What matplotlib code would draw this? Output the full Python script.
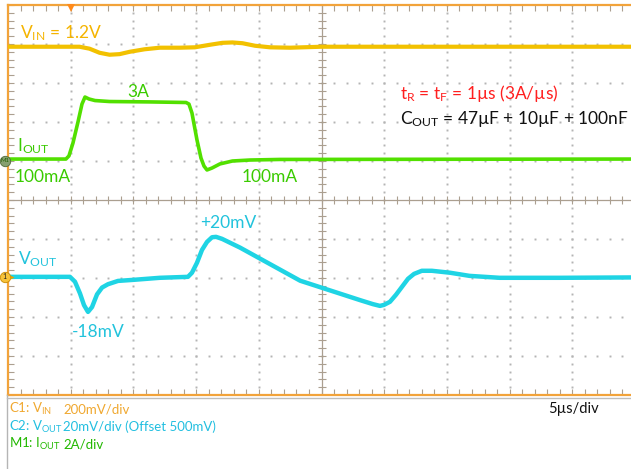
"""
Load-transient scope capture: V_IN, I_OUT and V_OUT, 5us/div.
"""
import numpy as np
import matplotlib
matplotlib.use('Agg')
import matplotlib.pyplot as plt
from matplotlib import rcParams
from matplotlib.ticker import MultipleLocator
from matplotlib.lines import Line2D

rcParams['font.family'] = ['Lato', 'DejaVu Sans']
rcParams['mathtext.fontset'] = 'custom'
rcParams['mathtext.rm'] = 'Lato'
rcParams['mathtext.it'] = 'Lato:italic'
rcParams['mathtext.bf'] = 'Lato:bold'

# scope settings
T_DIV = 5.0       # us/div
VIN_DIV = 200.0   # mV/div
VOUT_DIV = 20.0   # mV/div
IOUT_DIV = 2.0    # A/div
VIN_POS = 3.93    # trace offsets in div
VOUT_POS = -1.97
IOUT_POS = 1.0
TRIG_T = 5.0      # us

# V_IN ripple around 1.2V (mV)
vin_t  = np.array([0, 5.7, 6.5, 7.3, 8.1, 8.9, 9.7, 10.9, 12.1, 13.7, 14.9, 16.1, 17.1, 17.9, 18.7, 19.7, 20.9, 22.5, 25.0, 31.3, 50.0])
vin_mv = np.array([0, 0, -10, -31, -41, -38, -26, -13, -5, -5, -3, 10, 20, 22, 18, 5, -3, -5, 0, 0, 0])

# I_OUT step 100mA -> 3A -> 100mA (A)
iout_t = np.array([0, 4.62, 4.86, 5.18, 5.58, 5.90, 6.14, 6.46, 6.94, 8.1, 11.3, 14.2, 14.43, 14.67, 15.07, 15.39, 15.63, 15.87, 16.27, 16.9, 17.9, 19.3, 21.7, 50.0])
iout_a = np.array([0.1, 0.1, 0.26, 0.92, 2.0, 2.92, 3.28, 3.18, 3.1, 3.05, 3.03, 3.0, 2.92, 2.46, 1.08, 0.15, -0.26, -0.46, -0.36, -0.15, 0.0, 0.05, 0.08, 0.1])

# V_OUT deviation (mV)
vout_t  = np.array([0, 4.94, 5.34, 5.74, 6.06, 6.38, 6.70, 7.10, 7.50, 7.97, 8.77, 10.1, 12.1, 14.35, 14.67, 15.07, 15.47, 15.87, 16.27, 16.59, 17.06, 18.5, 23.3, 28.1, 29.1,
                    29.66, 29.98, 30.46, 30.94, 31.42, 31.90, 32.38, 33.0, 33.8, 35.25, 36.8, 39.2, 44.0, 50.0])
vout_mv = np.array([0, 0, -2.5, -8.5, -14.5, -18.0, -15.5, -9.0, -5.5, -3.8, -2.1, -1.5, -0.5, 0, 2.1, 7.2, 13.8, 17.9, 20.3, 20.5, 19.5, 15.0, -2.0, -12.0, -14.0,
                    -14.9, -14.4, -12.8, -9.2, -5.1, -1.0, 1.5, 3.1, 3.1, 2.1, 0.5, -0.5, -0.5, -0.3])

C_FRAME = '#f2a33a'
C_TICK = '#ab9f90'
C_VIN = '#f2c100'
C_VIN_TXT = '#f5b400'
C_IOUT = '#52e000'
C_IOUT_TXT = '#3acb00'
C_VOUT = '#1fd4e4'
C_VOUT_TXT = '#22c3dc'

W, H = 631, 469
fig = plt.figure(figsize=(W / 100, H / 100), dpi=100)
ax = fig.add_axes([8 / W, (H - 395) / H, 627 / W, 390 / H])
ax.set_xlim(0, 10)
ax.set_ylim(-5, 5)

for s in ['left', 'top', 'bottom']:
    ax.spines[s].set_color(C_FRAME)
    ax.spines[s].set_linewidth(1.6)
ax.spines['right'].set_visible(False)
ax.xaxis.set_major_locator(MultipleLocator(1))
ax.xaxis.set_minor_locator(MultipleLocator(0.2))
ax.yaxis.set_major_locator(MultipleLocator(1))
ax.yaxis.set_minor_locator(MultipleLocator(0.2))
ax.tick_params(which='both', direction='in', length=4, width=0.8, color=C_TICK,
               top=True, bottom=True, left=True, right=False,
               labelbottom=False, labelleft=False)

# dotted graticule
fine_y = np.arange(-5, 5.01, 0.2)
fine_x = np.arange(0, 10.01, 0.2)
for k in range(1, 10):
    if k != 5:
        ax.plot(np.full_like(fine_y, k), fine_y, ls='none', marker='s', ms=1.4, mew=0, color='#b4b4b4', zorder=1)
for k in range(-4, 5):
    if k != 0:
        ax.plot(fine_x, np.full_like(fine_x, k), ls='none', marker='s', ms=1.4, mew=0, color='#b4b4b4', zorder=1)
# center cross with ticks
ax.axvline(5, color=C_TICK, lw=0.9, zorder=1)
ax.axhline(0, color=C_TICK, lw=0.9, zorder=1)
ax.plot(np.full_like(fine_y, 5), fine_y, ls='none', marker='_', ms=6, mew=0.8, color=C_TICK, zorder=1)
ax.plot(fine_x, np.zeros_like(fine_x), ls='none', marker='|', ms=6, mew=0.8, color=C_TICK, zorder=1)

# traces
ax.plot((vin_t + TRIG_T) / T_DIV - 1, VIN_POS + vin_mv / VIN_DIV, color=C_VIN, lw=3.0, solid_joinstyle='round', zorder=3)
ax.plot((iout_t + TRIG_T) / T_DIV - 1, IOUT_POS + iout_a / IOUT_DIV, color=C_IOUT, lw=2.6, solid_joinstyle='round', zorder=3)
ax.plot((vout_t + TRIG_T) / T_DIV - 1, VOUT_POS + vout_mv / VOUT_DIV, color=C_VOUT, lw=3.2, solid_joinstyle='round', zorder=3)

# markers: trigger, M1, channel 1 level
ax.plot(TRIG_T / T_DIV, 4.93, marker='v', ms=6, color='#ff8a1a', mew=0, clip_on=False, zorder=5)
ax.plot(-0.055, IOUT_POS, marker='o', ms=7.5, mfc='#86a070', mec='#4f6a3a', mew=0.6, clip_on=False, zorder=5)
ax.text(-0.055, IOUT_POS, 'M1', fontsize=4.2, color='#1c5c00', ha='center', va='center', zorder=6, clip_on=False)
ax.plot(-0.055, VOUT_POS, marker='o', ms=7.5, mfc='#f7c23a', mec='#c98a00', mew=0.6, clip_on=False, zorder=5)
ax.text(-0.055, VOUT_POS, '1', fontsize=5, color='#202020', ha='center', va='center', zorder=6, clip_on=False)
ax.plot(0.07, VOUT_POS, marker='>', ms=3, color='#e8a000', mew=0, clip_on=False, zorder=5)

# annotations
fs = 12.5
ax.text(0.19, 4.15, r'V$_{\mathrm{IN}}$ = 1.2V', fontsize=fs, color=C_VIN_TXT)
ax.text(1.90, 2.64, '3A', fontsize=fs, color=C_IOUT_TXT)
ax.text(0.14, 1.24, r'I$_{\mathrm{OUT}}$', fontsize=fs, color=C_IOUT_TXT)
ax.text(0.10, 0.46, '100mA', fontsize=fs, color=C_IOUT_TXT)
ax.text(3.72, 0.46, '100mA', fontsize=fs, color=C_IOUT_TXT)
ax.text(0.16, -1.64, r'V$_{\mathrm{OUT}}$', fontsize=fs, color=C_VOUT_TXT)
ax.text(3.06, -0.72, '+20mV', fontsize=fs, color=C_VOUT_TXT)
ax.text(1.02, -3.51, '-18mV', fontsize=fs, color=C_VOUT_TXT)
ax.text(6.25, 2.58, r't$_{\mathrm{R}}$ = t$_{\mathrm{F}}$ = 1µs (3A/µs)', fontsize=fs, color='#ff1f1f')
ax.text(6.25, 1.95, r'C$_{\mathrm{OUT}}$ = 47µF + 10µF + 100nF', fontsize=fs, color='#111111')

# lower info panel
fig.add_artist(Line2D([7 / W, 7 / W], [0, (H - 395) / H], transform=fig.transFigure, color='#b5b5b5', lw=1))
fig.add_artist(Line2D([7 / W, 1], [(H - 397.5) / H] * 2, transform=fig.transFigure, color='#bdbdbd', lw=1))
fig.text(548 / W, 1 - 413 / H, '5µs/div', fontsize=10.5, color='#111111')
lfs = 9.5
rows = [(413, r'C1: V$_{\mathrm{IN}}$', '200mV/div', '#f0a830', 63),
        (431, r'C2: V$_{\mathrm{OUT}}$', '20mV/div (Offset 500mV)', '#22bfe0', 63),
        (448, r'M1: I$_{\mathrm{OUT}}$', '2A/div', '#22b800', 63)]
for yb, name, scale, col, xs in rows:
    fig.text(9 / W, 1 - yb / H, name, fontsize=lfs, color=col)
    fig.text(xs / W, 1 - yb / H, scale, fontsize=lfs, color=col)

fig.savefig('out.png', dpi=100)
